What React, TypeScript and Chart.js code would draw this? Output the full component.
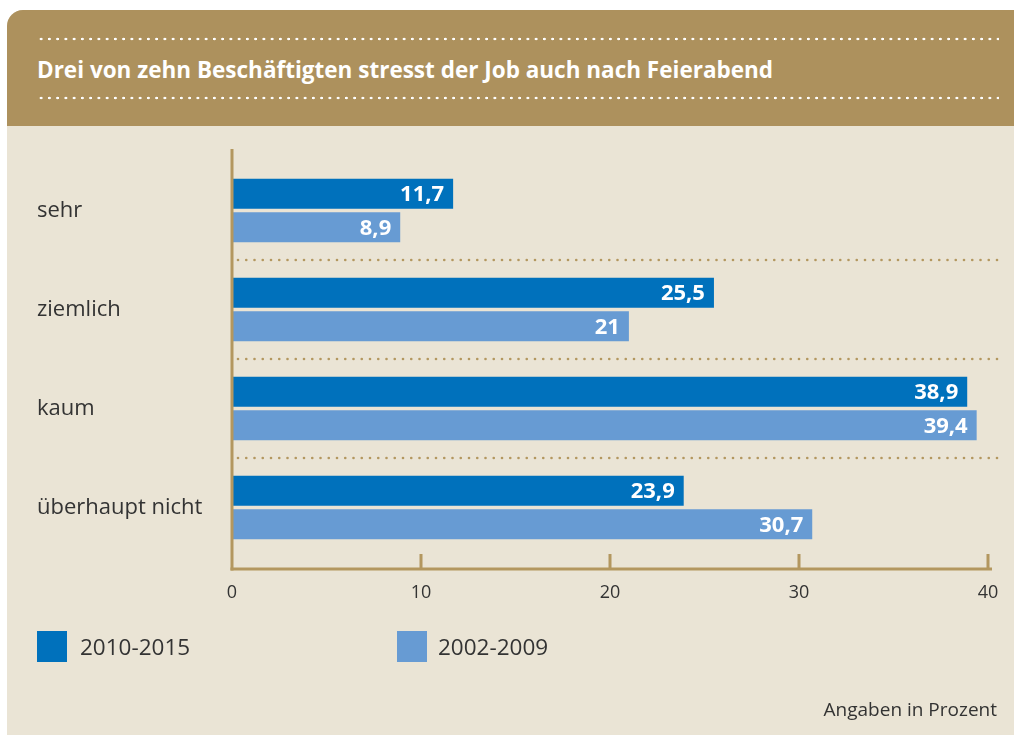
import React, { useEffect, useRef } from "react";
import { Chart, registerables } from "chart.js";

Chart.register(...registerables);

const categories = ["sehr", "ziemlich", "kaum", "überhaupt nicht"];
const series2010_2015 = [11.7, 25.5, 38.9, 23.9];
const series2002_2009 = [8.9, 21, 39.4, 30.7];
const seriesLabels = ["2010-2015", "2002-2009"];
const xTicks = [0, 10, 20, 30, 40];
const title = "Drei von zehn Beschäftigten stresst der Job auch nach Feierabend";
const footnote = "Angaben in Prozent";

const DARK = "#0071BC";
const LIGHT = "#679BD3";
const GOLD = "#AD915D";
const AXIS = "#B3975F";
const BG = "#EAE4D5";
const TEXT = "#333333";
const FONT = "'Open Sans', 'Noto Sans', sans-serif";

const fmt = (v: number) => String(v).replace(".", ",");

const customPlugin = {
  id: "customAxes",
  beforeDatasetsDraw(chart: any) {
    const { ctx, chartArea, scales } = chart;
    const y = scales.y;
    ctx.save();
    ctx.fillStyle = AXIS;
    for (let i = 1; i < categories.length; i++) {
      const yy = Math.round((y.getPixelForValue(i - 1) + y.getPixelForValue(i)) / 2);
      for (let xx = chartArea.left + 6; xx <= 999; xx += 8.25) {
        ctx.beginPath();
        ctx.arc(xx, yy, 1.3, 0, Math.PI * 2);
        ctx.fill();
      }
    }
    ctx.restore();
  },
  afterDatasetsDraw(chart: any) {
    const { ctx, chartArea, scales } = chart;
    const x = scales.x;
    ctx.save();
    // value labels
    ctx.fillStyle = "#ffffff";
    ctx.font = `bold 22px ${FONT}`;
    ctx.textAlign = "right";
    ctx.textBaseline = "middle";
    chart.data.datasets.forEach((ds: any, di: number) => {
      const meta = chart.getDatasetMeta(di);
      meta.data.forEach((bar: any, i: number) => {
        ctx.fillText(fmt(ds.data[i]), bar.x - 9, bar.y + 1);
      });
    });
    // axes
    const x0 = x.getPixelForValue(0);
    const axisY = chartArea.bottom + 12;
    ctx.strokeStyle = AXIS;
    ctx.lineWidth = 3;
    ctx.beginPath();
    ctx.moveTo(x0, 149);
    ctx.lineTo(x0, axisY + 1.5);
    ctx.stroke();
    ctx.beginPath();
    ctx.moveTo(x0 - 1.5, axisY);
    ctx.lineTo(x.getPixelForValue(xTicks[xTicks.length - 1]) + 4, axisY);
    ctx.stroke();
    xTicks.slice(1).forEach((v) => {
      const px = x.getPixelForValue(v);
      ctx.beginPath();
      ctx.moveTo(px, axisY - 15);
      ctx.lineTo(px, axisY);
      ctx.stroke();
    });
    ctx.restore();
  },
};

function ChartCanvas() {
  const ref = useRef<HTMLCanvasElement | null>(null);
  useEffect(() => {
    if (!ref.current) return;
    const chart = new Chart(ref.current, {
      type: "bar",
      data: {
        labels: categories,
        datasets: [
          {
            label: seriesLabels[0],
            data: series2010_2015,
            backgroundColor: DARK,
            categoryPercentage: 0.677,
            barPercentage: 0.895,
          },
          {
            label: seriesLabels[1],
            data: series2002_2009,
            backgroundColor: LIGHT,
            categoryPercentage: 0.677,
            barPercentage: 0.895,
          },
        ],
      },
      options: {
        indexAxis: "y",
        responsive: false,
        animation: false,
        layout: { padding: { top: 161, right: 26, left: 37, bottom: 0 } },
        plugins: {
          legend: { display: false },
          tooltip: { enabled: false },
          title: { display: false },
        },
        scales: {
          x: {
            min: 0,
            max: 40,
            afterBuildTicks: (axis: any) => {
              axis.ticks = xTicks.map((v) => ({ value: v }));
            },
            afterFit: (axis: any) => {
              axis.height = 178;
              axis.paddingLeft = 0;
              axis.paddingRight = 0;
            },
            grid: { display: false, drawTicks: false },
            border: { display: false },
            ticks: {
              padding: 25,
              color: TEXT,
              font: { family: FONT, size: 18 },
              maxRotation: 0,
              autoSkip: false,
            },
          },
          y: {
            afterFit: (axis: any) => {
              axis.width = 195;
              axis.paddingTop = 0;
              axis.paddingBottom = 0;
            },
            grid: { display: false, drawTicks: false },
            border: { display: false },
            ticks: {
              crossAlign: "far",
              padding: 0,
              color: TEXT,
              font: { family: FONT, size: 22 },
            },
          },
        },
      },
      plugins: [customPlugin],
    } as any);
    return () => chart.destroy();
  }, []);
  return (
    <canvas
      ref={ref}
      width={1014}
      height={735}
      style={{ position: "absolute", left: 0, top: 0, width: 1014, height: 735 }}
    />
  );
}

const dots = (top: number) => (
  <div
    style={{
      position: "absolute",
      left: 30,
      top: top - 2,
      width: 962,
      height: 4,
      backgroundImage: "radial-gradient(circle at center, #ffffff 1.1px, rgba(255,255,255,0) 1.6px)",
      backgroundSize: "8.25px 4px",
      backgroundRepeat: "repeat-x",
    }}
  />
);

export default function App() {
  return (
    <div
      style={{
        position: "absolute",
        left: 0,
        top: 0,
        width: 1014,
        height: 735,
        overflow: "hidden",
        background: "#ffffff",
        fontFamily: FONT,
      }}
    >
      <div
        style={{
          position: "absolute",
          left: 7,
          top: 10,
          width: 1007,
          height: 725,
          background: BG,
          borderTopLeftRadius: 16,
          overflow: "hidden",
        }}
      >
        <div
          style={{
            position: "absolute",
            left: 0,
            top: 0,
            width: 1007,
            height: 116,
            background: GOLD,
          }}
        >
          {dots(29)}
          {dots(88)}
          <div
            style={{
              position: "absolute",
              left: 30,
              top: 45,
              height: 30,
              lineHeight: "30px",
              color: "#ffffff",
              fontWeight: 700,
              fontSize: 22.5,
              whiteSpace: "nowrap",
            }}
          >
            {title}
          </div>
        </div>
      </div>
      <ChartCanvas />
      <div style={{ position: "absolute", left: 37, top: 631, width: 30, height: 31, background: DARK }} />
      <div
        style={{
          position: "absolute",
          left: 80,
          top: 632,
          height: 30,
          lineHeight: "30px",
          fontSize: 22.5,
          color: TEXT,
          whiteSpace: "nowrap",
        }}
      >
        {seriesLabels[0]}
      </div>
      <div style={{ position: "absolute", left: 397, top: 631, width: 30, height: 31, background: LIGHT }} />
      <div
        style={{
          position: "absolute",
          left: 438,
          top: 632,
          height: 30,
          lineHeight: "30px",
          fontSize: 22.5,
          color: TEXT,
          whiteSpace: "nowrap",
        }}
      >
        {seriesLabels[1]}
      </div>
      <div
        style={{
          position: "absolute",
          right: 17,
          top: 695,
          height: 28,
          lineHeight: "28px",
          fontSize: 19,
          color: TEXT,
          whiteSpace: "nowrap",
        }}
      >
        {footnote}
      </div>
    </div>
  );
}
